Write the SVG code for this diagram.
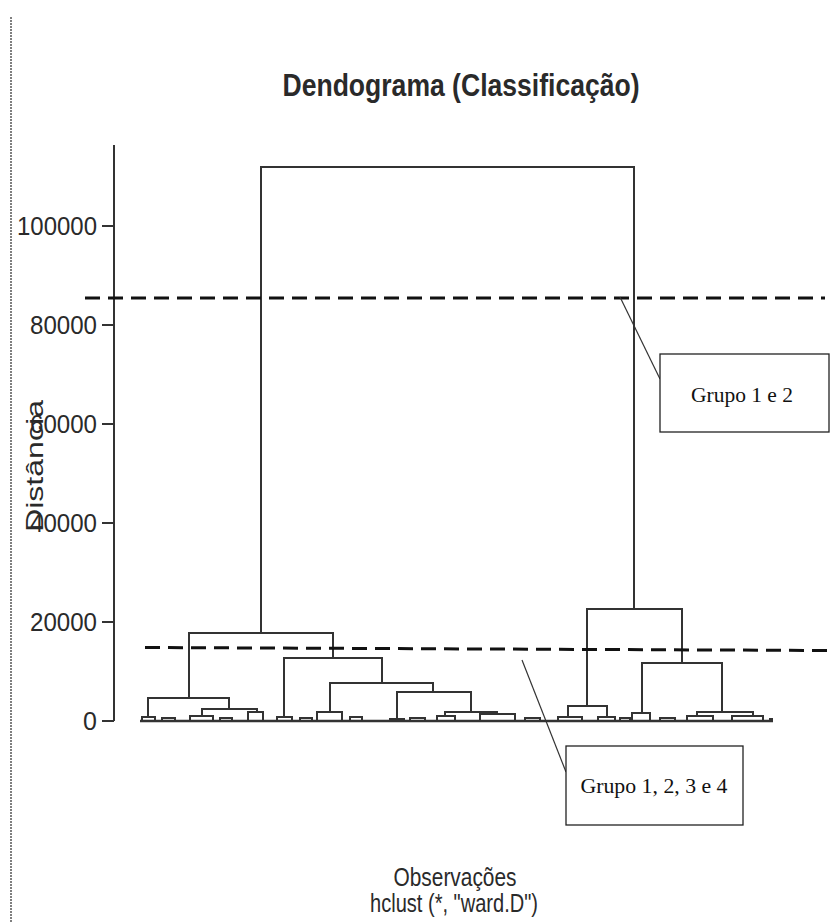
<svg xmlns="http://www.w3.org/2000/svg" width="835" height="923" viewBox="0 0 835 923">
<style>
.t{font-family:"Liberation Sans",Arial,sans-serif;fill:#2a2a2a}
.d{fill:none;stroke:#333;stroke-width:2;stroke-linejoin:miter}
.cut{fill:none;stroke:#111;stroke-width:3;stroke-dasharray:15,8}
.box{fill:#fff;stroke:#222;stroke-width:1.3}
.lbl{font-family:"Liberation Serif","Times New Roman",serif;font-size:20px;fill:#111}
.lead{stroke:#333;stroke-width:1.2}
</style>
<rect width="835" height="923" fill="#fff"/>
<line x1="11" y1="17" x2="11" y2="923" stroke="#555" stroke-width="1.5" stroke-dasharray="2,1"/>
<g id="title"><text class="t" x="461" y="96" font-size="31" font-weight="bold" text-anchor="middle" textLength="357" lengthAdjust="spacingAndGlyphs" fill="#111">Dendograma (Classificação)</text></g>
<g id="yaxis">
<line x1="114" y1="145" x2="114" y2="721" stroke="#333" stroke-width="2"/>
<g stroke="#333" stroke-width="2">
<line x1="102" y1="721" x2="114" y2="721"/>
<line x1="102" y1="622" x2="114" y2="622"/>
<line x1="102" y1="523" x2="114" y2="523"/>
<line x1="102" y1="424" x2="114" y2="424"/>
<line x1="102" y1="325" x2="114" y2="325"/>
<line x1="102" y1="226" x2="114" y2="226"/>
</g>
<g class="t" font-size="25" text-anchor="end">
<text x="97" y="730">0</text>
<text x="97" y="631" textLength="67" lengthAdjust="spacingAndGlyphs">20000</text>
<text x="97" y="532" textLength="67" lengthAdjust="spacingAndGlyphs">40000</text>
<text x="97" y="433" textLength="67" lengthAdjust="spacingAndGlyphs">60000</text>
<text x="97" y="334" textLength="67" lengthAdjust="spacingAndGlyphs">80000</text>
<text x="97" y="235" textLength="80" lengthAdjust="spacingAndGlyphs">100000</text>
</g>
<text class="t" font-size="24" text-anchor="middle" transform="translate(43,466) rotate(-90)" textLength="132" lengthAdjust="spacingAndGlyphs">Distância</text>
</g>
<g id="xlabel" class="t" font-size="25" text-anchor="middle">
<text x="455" y="886" textLength="123" lengthAdjust="spacingAndGlyphs">Observações</text>
<text x="454" y="912" textLength="168" lengthAdjust="spacingAndGlyphs">hclust (*, "ward.D")</text>
</g>
<g id="dendrogram" class="d">
<path d="M261 633V167H634V609"/>
<path d="M189 698V633H333V658"/>
<path d="M148 717V698H229V709"/>
<path d="M142 721V717H155V721"/>
<path d="M202 716V709H257V712"/>
<path d="M190 721V716H213V721"/>
<path d="M248 721V712H263V721"/>
<path d="M284 717V658H382V683"/>
<path d="M277 721V717H292V721"/>
<path d="M330 712V683H433V692"/>
<path d="M317 721V712H342V721"/>
<path d="M397 719V692H471V712"/>
<path d="M390 721V719H404V721"/>
<path d="M445 716V712H497V714"/>
<path d="M437 721V716H455V721"/>
<path d="M480 721V714H515V721"/>
<path d="M587 706V609H682V663"/>
<path d="M568 717V706H607V717"/>
<path d="M558 721V717H582V721"/>
<path d="M598 721V717H615V721"/>
<path d="M642 713V663H722V712"/>
<path d="M632 721V713H650V721"/>
<path d="M697 716V712H753V716"/>
<path d="M687 721V716H713V721"/>
<path d="M732 721V716H763V721"/>
<path d="M162 721V718H175V721M220 721V718H232V721M300 721V718H312V721M350 721V717H362V721M410 721V718H425V721M525 721V718H540V721M620 721V718H630V721M660 721V718H675V721M770 721V719H773"/>
<line x1="140" y1="721" x2="773" y2="721" stroke-width="2.5"/>
</g>
<g id="cuts">
<line class="cut" x1="85" y1="298" x2="825" y2="298"/>
<line class="cut" x1="145" y1="647.5" x2="830" y2="650.5"/>
</g>
<g id="connectors">
<line class="lead" x1="620" y1="297" x2="660" y2="379"/>
<line class="lead" x1="522" y1="660" x2="566" y2="772"/>
</g>
<g id="callout1">
<rect class="box" x="660" y="354" width="169" height="78"/>
<text class="lbl" x="742" y="402" text-anchor="middle" textLength="102" lengthAdjust="spacingAndGlyphs">Grupo 1 e 2</text>
</g>
<g id="callout2">
<rect class="box" x="566" y="746" width="177" height="79"/>
<text class="lbl" x="654" y="793" text-anchor="middle" textLength="147" lengthAdjust="spacingAndGlyphs">Grupo 1, 2, 3 e 4</text>
</g>
</svg>
